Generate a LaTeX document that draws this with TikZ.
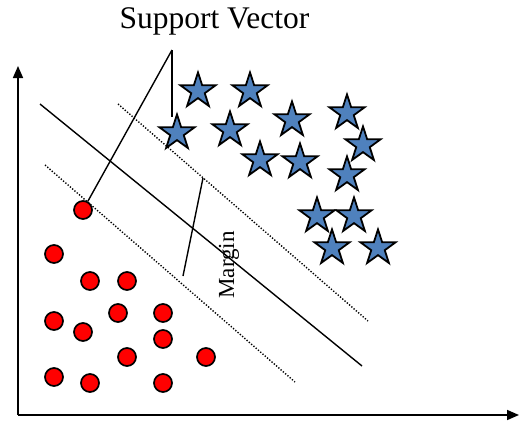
\documentclass[tikz,border=0pt]{standalone}
\usepackage{fontspec}
\setmainfont{Liberation Serif}
\usetikzlibrary{shapes.geometric,arrows.meta}
\definecolor{starblue}{RGB}{79,129,189}
\begin{document}
\begin{tikzpicture}[x=1pt,y=-1pt,
  blue star/.style={star,star points=5,star point ratio=2.6,minimum size=37pt,inner sep=0pt,fill=starblue,draw=black,line width=1.8pt},
  red dot/.style={circle,minimum size=18pt,inner sep=0pt,fill=red,draw=black,line width=1.7pt},
  axis/.style={line width=1.6pt,-{Triangle[length=12pt,width=10pt]}},
  plane/.style={line width=1.4pt},
  marginline/.style={line width=1.4pt,dash pattern=on 1.3pt off 1.7pt},
  pointer/.style={line width=1.4pt}]
\useasboundingbox (0,0) rectangle (519,426);
\fill[white] (0,0) rectangle (519,426);
% axes
\coordinate (o) at (18,415);
\coordinate (ytip) at (18,66);
\coordinate (xtip) at (519,415);
\draw[axis] (o) -- (ytip);
\draw[axis] (o) -- (xtip);
% hyperplane and margins
\coordinate (h1) at (40,104);
\coordinate (h2) at (362,366);
\coordinate (u1) at (118,104);
\coordinate (u2) at (368,321);
\coordinate (l1) at (45,165);
\coordinate (l2) at (295,382);
\draw[plane] (h1) -- (h2);
\draw[marginline] (u1) -- (u2);
\draw[marginline] (l1) -- (l2);
% margin
\coordinate (m1) at (203,178);
\coordinate (m2) at (183,276);
\draw[pointer] (m1) -- (m2);
\node[rotate=90,font=\fontsize{23}{26}\selectfont,inner sep=0pt] (mlabel) at (229,265) {Margin};
% stars
\node[blue star] (s1) at (198,91) {};
\node[blue star] (s2) at (250,91) {};
\node[blue star] (s3) at (177,133) {};
\node[blue star] (s4) at (230,130) {};
\node[blue star] (s5) at (292,120) {};
\node[blue star] (s6) at (347,113) {};
\node[blue star] (s7) at (363,145) {};
\node[blue star] (s8) at (260,160) {};
\node[blue star] (s9) at (300,162) {};
\node[blue star] (s10) at (347,175) {};
\node[blue star] (s11) at (317,216) {};
\node[blue star] (s12) at (354,216) {};
\node[blue star] (s13) at (332,248) {};
\node[blue star] (s14) at (378,248) {};
% circles
\node[red dot] (c1) at (83,210) {};
\node[red dot] (c2) at (54,254) {};
\node[red dot] (c3) at (90,281) {};
\node[red dot] (c4) at (127,281) {};
\node[red dot] (c5) at (118,313) {};
\node[red dot] (c6) at (163,313) {};
\node[red dot] (c7) at (54,321) {};
\node[red dot] (c8) at (83,332) {};
\node[red dot] (c9) at (163,339) {};
\node[red dot] (c10) at (127,357) {};
\node[red dot] (c11) at (206,357) {};
\node[red dot] (c12) at (54,377) {};
\node[red dot] (c13) at (90,383) {};
\node[red dot] (c14) at (163,383) {};
% support vector label
\node[anchor=base,inner sep=0pt,font=\fontsize{31.5}{36}\selectfont] (sv) at (214.5,28) {Support Vector};
\coordinate (svp) at (172,50);
\coordinate (svq) at (172,117);
\draw[pointer] (svp) -- (c1);
\draw[pointer] (svp) -- (svq);
\end{tikzpicture}
\end{document}
